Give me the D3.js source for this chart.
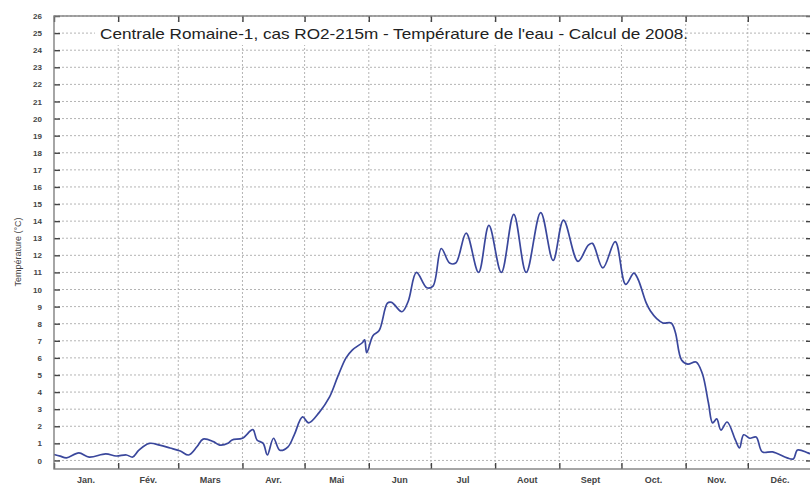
<!DOCTYPE html>
<html>
<head>
<meta charset="utf-8">
<script src="https://cdn.jsdelivr.net/npm/d3@7"></script>
<style>
  html, body { margin: 0; padding: 0; background: #fff; }
  svg { display: block; }
  text { font-family: "Liberation Sans", Arial, sans-serif; }
</style>
</head>
<body>
<svg id="chart" width="810" height="488"></svg>
<script>
// Water temperature, 2008 simulation (day of year, °C)
const days = [0, 3, 6, 12, 17, 25, 30, 35, 38, 41, 46, 51, 56, 61, 65, 69, 72, 77, 80, 84, 86, 91, 96, 98, 101, 103, 106, 109, 113, 116,
  120, 123, 128, 133, 137, 141, 144, 149, 150, 151, 154, 157, 161, 163, 168, 171, 175, 180, 183, 187, 191, 194, 199, 205, 210, 216,
  222, 228, 235, 241, 246, 253, 258, 260, 265, 271, 276, 280, 282, 286, 288, 291, 294, 298, 300, 303, 306, 310, 313, 316, 318, 320,
  322, 325, 329, 331, 333, 336, 339, 342, 347, 354, 357, 359, 364, 366];
const temps = [0.35, 0.25, 0.15, 0.44, 0.2, 0.38, 0.26, 0.32, 0.2, 0.6, 1.0, 0.9, 0.73, 0.55, 0.32, 0.8, 1.25, 1.1, 0.9, 1.0, 1.2, 1.3, 1.8, 1.2, 1.0, 0.32, 1.3, 0.6, 0.8, 1.5,
  2.55, 2.2, 2.8, 3.7, 4.9, 6.0, 6.46, 6.9, 7.05, 6.3, 7.3, 7.6, 9.2, 9.25, 8.7, 9.3, 11.0, 10.1, 10.2, 12.4, 11.55, 11.55, 13.3, 11.0, 13.75, 11.0,
  14.4, 11.0, 14.5, 11.7, 14.06, 11.65, 12.6, 12.7, 11.26, 12.8, 10.3, 10.96, 10.6, 9.2, 8.74, 8.3, 8.04, 8.04, 7.5, 5.88, 5.64, 5.76, 5.1, 3.36, 2.2, 2.43,
  1.78, 2.25, 1.2, 0.73, 1.5, 1.3, 1.37, 0.5, 0.5, 0.15, 0.09, 0.61, 0.44, 0.35];

// Month boundaries (leap year) and labels
const monthStarts = [0, 31, 60, 91, 121, 152, 182, 213, 244, 274, 305, 335, 366];
const monthLabels = ["Jan.", "Fév.", "Mars", "Avr.", "Mai", "Jun", "Jul", "Aout", "Sept", "Oct.", "Nov.", "Déc."];
const yTicks = d3.range(0, 27);

const titleText = "Centrale Romaine-1, cas RO2-215m - Température de l'eau - Calcul de 2008.";
const yTitle = "Température (°C)";

const svg = d3.select("#chart");
const plotL = 54, plotR = 812, plotT = 16, plotB = 469;

const x = d3.scaleLinear().domain([0, 366]).range([plotL, plotR]);
const y = d3.scaleLinear().domain([-0.5, 26]).range([plotB, plotT]);

// Grid
const grid = svg.append("g");
grid.selectAll("line.h").data(yTicks).join("line")
  .attr("x1", plotL).attr("x2", plotR)
  .attr("y1", d => y(d)).attr("y2", d => y(d))
  .attr("stroke", "#b4b4b4").attr("stroke-width", 1).attr("stroke-dasharray", "2,2");
grid.selectAll("line.v").data(monthStarts.slice(1, -1)).join("line")
  .attr("x1", d => x(d)).attr("x2", d => x(d))
  .attr("y1", plotT).attr("y2", plotB)
  .attr("stroke", "#b4b4b4").attr("stroke-width", 1).attr("stroke-dasharray", "2,2");

// Axes with inward ticks
const tickStyle = g => {
  g.select(".domain").remove();
  g.selectAll(".tick line").attr("stroke", "#444").attr("stroke-width", 1.4);
  g.selectAll(".tick text").attr("fill", "#444").attr("font-size", 8).attr("font-weight", "bold");
};
svg.append("g").attr("transform", `translate(${plotL},0)`)
  .call(d3.axisRight(y).tickValues(yTicks).tickSize(6).tickFormat(""))
  .call(tickStyle);
svg.append("g").attr("transform", `translate(${plotL},0)`)
  .call(d3.axisLeft(y).tickValues(yTicks).tickSize(0).tickPadding(12))
  .call(tickStyle);
svg.append("g").attr("transform", `translate(${plotR},0)`)
  .call(d3.axisLeft(y).tickValues(yTicks).tickSize(6).tickFormat(""))
  .call(tickStyle);
svg.append("g").attr("transform", `translate(0,${plotB})`)
  .call(d3.axisTop(x).tickValues(monthStarts).tickSize(6).tickFormat(""))
  .call(tickStyle);
svg.append("g").attr("transform", `translate(0,${plotT})`)
  .call(d3.axisBottom(x).tickValues(monthStarts).tickSize(6).tickFormat(""))
  .call(tickStyle);

// Month labels centred in each month
svg.append("g").selectAll("text").data(monthLabels).join("text")
  .attr("x", (d, i) => x((monthStarts[i] + monthStarts[i + 1]) / 2))
  .attr("y", 483)
  .attr("text-anchor", "middle")
  .attr("font-size", 9).attr("font-weight", "bold").attr("fill", "#444")
  .text(d => d);

// Title on a white band
svg.append("rect").attr("x", 95).attr("y", 22).attr("width", 590).attr("height", 23).attr("fill", "#fff");
svg.append("text")
  .attr("x", 100).attr("y", 39)
  .attr("font-size", 14.5).attr("fill", "#222")
  .attr("textLength", 588).attr("lengthAdjust", "spacingAndGlyphs")
  .text(titleText);

// Y axis title
svg.append("text")
  .attr("transform", "translate(21,252) rotate(-90)")
  .attr("text-anchor", "middle")
  .attr("font-size", 9).attr("fill", "#444")
  .text(yTitle);

// Temperature curve
const line = d3.line()
  .x((d, i) => x(days[i]))
  .y(d => y(d))
  .curve(d3.curveCatmullRom.alpha(0.5));
svg.append("path")
  .datum(temps)
  .attr("d", line)
  .attr("fill", "none")
  .attr("stroke", "#3a479c")
  .attr("stroke-width", 1.7)
  .attr("stroke-linejoin", "round");

// Frame
svg.append("rect")
  .attr("x", plotL).attr("y", plotT)
  .attr("width", plotR - plotL).attr("height", plotB - plotT)
  .attr("fill", "none").attr("stroke", "#808080").attr("stroke-width", 1.4);
</script>
</body>
</html>
